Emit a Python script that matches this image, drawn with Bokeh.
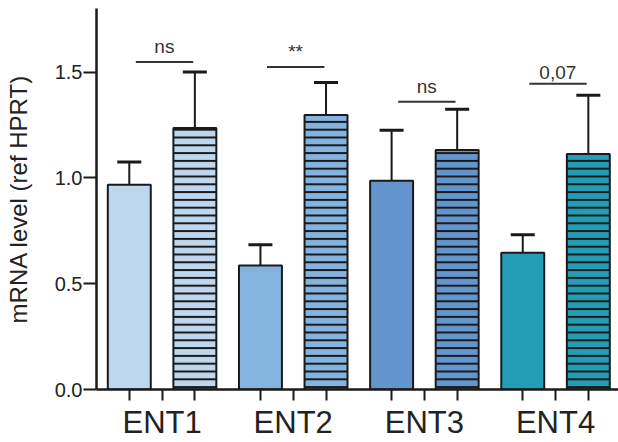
from bokeh.plotting import figure
from bokeh.models import ColumnDataSource, FixedTicker, Range1d, Whisker, TeeHead
from bokeh.core.properties import value
from bokeh.embed import file_html
from bokeh.resources import INLINE

# ---- data ----
genes = ["ENT1", "ENT2", "ENT3", "ENT4"]
solid_means = [0.967, 0.586, 0.986, 0.646]
solid_err_top = [1.075, 0.684, 1.225, 0.731]
striped_means = [1.236, 1.297, 1.132, 1.113]
striped_err_top = [1.50, 1.45, 1.324, 1.39]
colors = ["#BDD7EE", "#85B3DF", "#6395CF", "#239DB5"]
sig_labels = ["ns", "**", "ns", "0,07"]
sig_heights = [1.547, 1.524, 1.36, 1.445]
y_ticks = [0.0, 0.5, 1.0, 1.5]

# slot positions: solid bar, gap, striped bar, (blank) per gene
solid_x = [4 * i for i in range(len(genes))]
gap_x = [4 * i + 1 for i in range(len(genes))]
striped_x = [4 * i + 2 for i in range(len(genes))]

BLACK = "#1a1a1a"
TXT = "#222222"
FONT = "Liberation Sans"

p = figure(width=618, height=442, output_backend="svg", toolbar_location=None,
           x_range=Range1d(-1.0, 14.92), y_range=Range1d(0, 1.8),
           min_border_left=96, min_border_right=0, min_border_top=8,
           min_border_bottom=53)
p.outline_line_color = None
p.grid.visible = False
p.background_fill_color = "white"
p.border_fill_color = "white"

src_solid = ColumnDataSource(dict(x=solid_x, top=solid_means, up=solid_err_top, color=colors))
src_str = ColumnDataSource(dict(x=striped_x, top=striped_means, up=striped_err_top, color=colors))

p.vbar(x="x", top="top", width=1.31, bottom=0, source=src_solid,
       fill_color="color", line_color=BLACK, line_width=2)
p.vbar(x="x", top="top", width=1.31, bottom=0, source=src_str,
       fill_color="color", line_color=BLACK, line_width=2,
       hatch_pattern="horizontal_line", hatch_color=BLACK,
       hatch_scale=7.8, hatch_weight=2)

for src in (src_solid, src_str):
    w = Whisker(base="x", lower="top", upper="up", source=src,
                line_color=BLACK, line_width=2,
                upper_head=TeeHead(size=24, line_width=3, line_color=BLACK),
                lower_head=None)
    p.add_layout(w)

# significance brackets
sig_src = ColumnDataSource(dict(
    x0=[x + 0.2 for x in solid_x], x1=[x + 1.95 for x in solid_x],
    y=sig_heights, xm=[x + 1.07 for x in solid_x], lab=sig_labels))
p.segment(x0="x0", x1="x1", y0="y", y1="y", source=sig_src,
          line_color="#333333", line_width=2)
p.text(x="xm", y="y", text="lab", source=sig_src, text_align="center",
       text_baseline="bottom", y_offset=-5, text_font_size="19px",
       text_color="#333333", text_font=value(FONT))

# axes
xa = p.xaxis[0]
xa.ticker = FixedTicker(ticks=sorted(solid_x + gap_x + striped_x))
overrides = {}
for v in solid_x + striped_x:
    overrides[v] = ""
for v, g in zip(gap_x, genes):
    overrides[v] = g
xa.major_label_overrides = overrides
xa.major_label_text_font = FONT
xa.major_label_text_font_size = "31px"
xa.major_label_text_color = TXT
xa.major_label_standoff = 4
xa.major_tick_out = 11
xa.major_tick_in = 0
xa.minor_tick_line_color = None
xa.axis_line_width = 2.5
xa.major_tick_line_width = 2
xa.axis_line_color = BLACK
xa.major_tick_line_color = BLACK

ya = p.yaxis[0]
ya.ticker = FixedTicker(ticks=y_ticks)
ya.major_label_overrides = {t: f"{t:.1f}" for t in y_ticks}
ya.major_label_text_font = FONT
ya.major_label_text_font_size = "20px"
ya.major_label_text_color = TXT
ya.major_label_standoff = 1
ya.major_tick_out = 13
ya.major_tick_in = 0
ya.minor_tick_line_color = None
ya.axis_line_width = 2.5
ya.major_tick_line_width = 2
ya.axis_line_color = BLACK
ya.major_tick_line_color = BLACK
ya.axis_label = "mRNA level (ref HPRT)"
ya.axis_label_text_font = FONT
ya.axis_label_text_font_size = "24px"
ya.axis_label_text_font_style = "normal"
ya.axis_label_text_color = TXT
ya.axis_label_standoff = 20

open("out.html", "w").write(file_html(p, INLINE))
